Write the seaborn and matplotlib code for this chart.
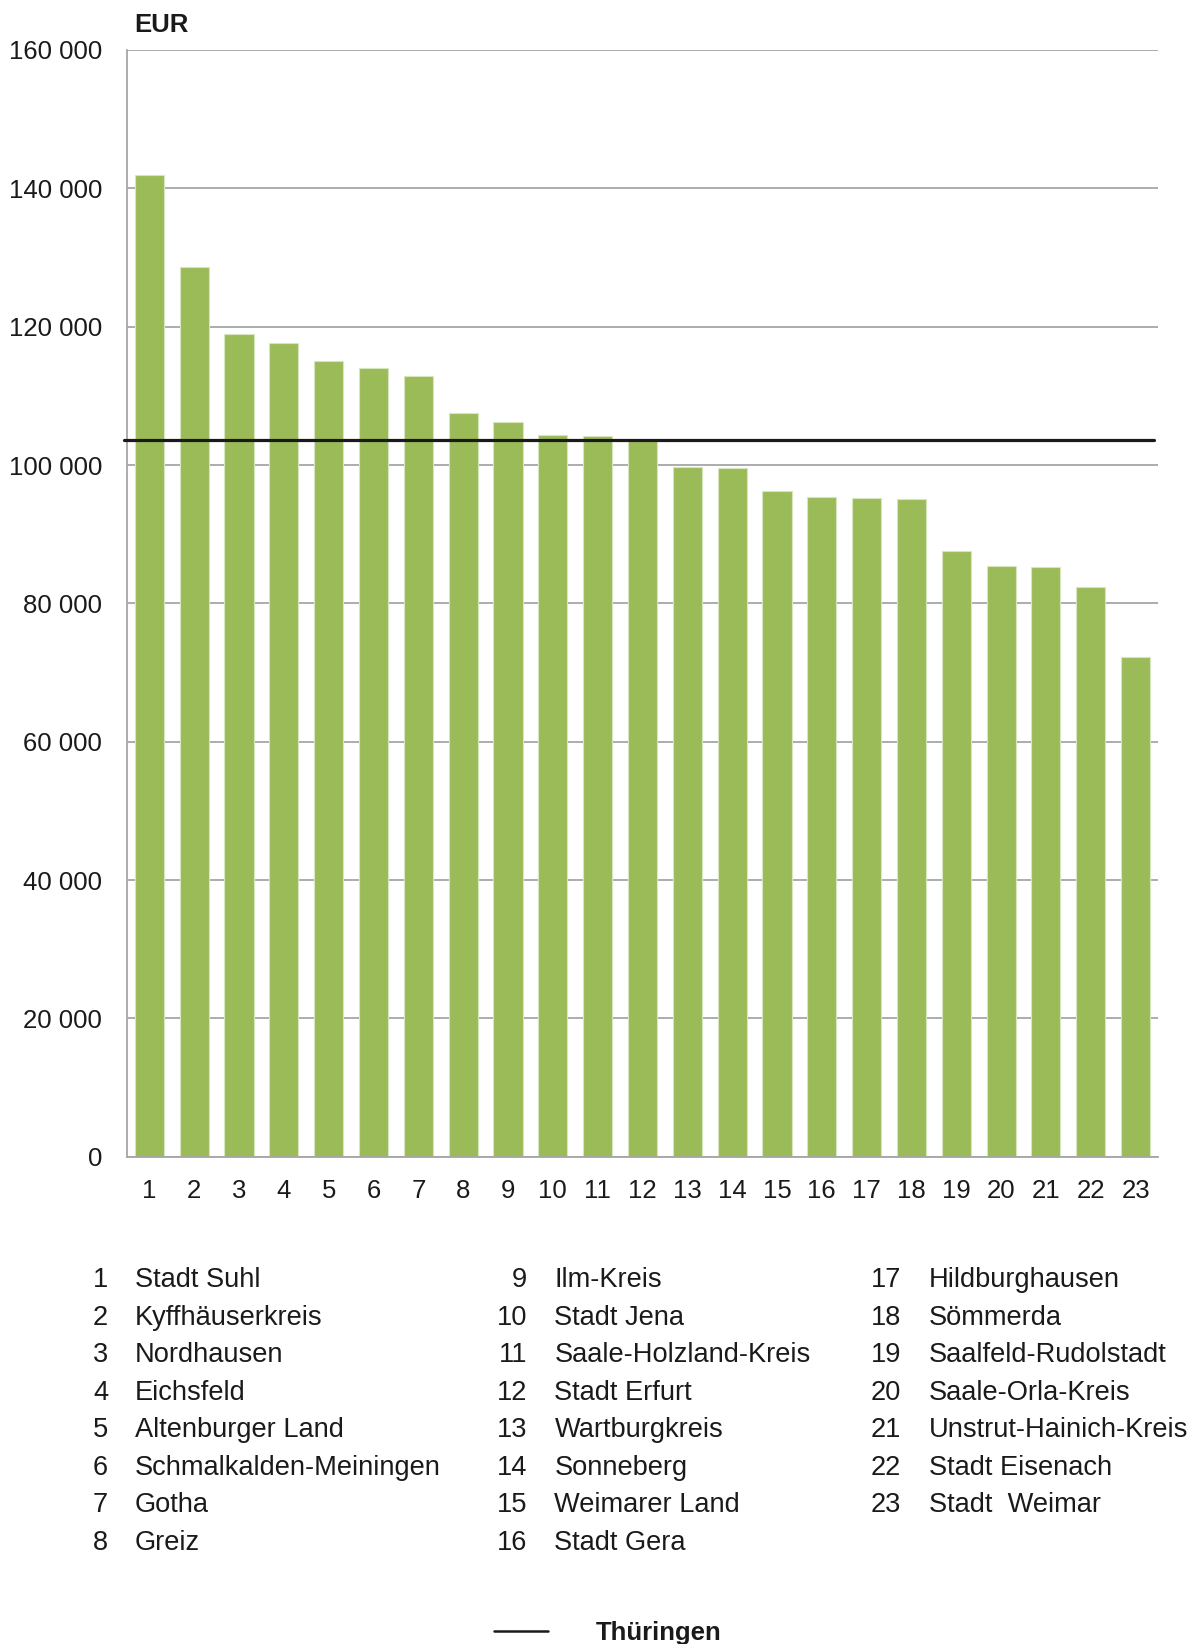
import matplotlib
matplotlib.use("Agg")
import matplotlib.pyplot as plt
from matplotlib.ticker import FuncFormatter
from matplotlib.lines import Line2D
import seaborn as sns
import pandas as pd

# ---- data ----
ranks = [str(i) for i in range(1, 24)]
kreise = ["Stadt Suhl", "Kyffhäuserkreis", "Nordhausen", "Eichsfeld", "Altenburger Land",
          "Schmalkalden-Meiningen", "Gotha", "Greiz", "Ilm-Kreis", "Stadt Jena",
          "Saale-Holzland-Kreis", "Stadt Erfurt", "Wartburgkreis", "Sonneberg",
          "Weimarer Land", "Stadt Gera", "Hildburghausen", "Sömmerda",
          "Saalfeld-Rudolstadt", "Saale-Orla-Kreis", "Unstrut-Hainich-Kreis",
          "Stadt Eisenach", "Stadt  Weimar"]
values = [141900, 128600, 119000, 117600, 115000, 114000, 112900, 107500, 106200,
          104400, 104200, 103500, 99700, 99600, 96300, 95400, 95300, 95100,
          87600, 85400, 85300, 82400, 72200]
thueringen = 103600
yticks = [0, 20000, 40000, 60000, 80000, 100000, 120000, 140000, 160000]
unit_label = "EUR"
avg_label = "Thüringen"

df = pd.DataFrame({"rank": ranks, "value": values})

sns.set_style("white")
plt.rcParams['font.family'] = ['Liberation Sans', 'DejaVu Sans']

TXT = "#1a1a1a"
GRID = "#a6a6a6"
FS = 18.5
FS_LEG = 19.6

fig = plt.figure(figsize=(11.97, 16.44), dpi=100)
ax = fig.add_axes([0.1061, 0.2964, 0.9674 - 0.1061, 0.9696 - 0.2964])

sns.barplot(data=df, x="rank", y="value", order=ranks, color="#9bbb59",
            saturation=1, width=0.65, edgecolor="#d8e6c0", linewidth=0.8,
            ax=ax, zorder=2)

ax.set_ylim(yticks[0], yticks[-1])
ax.set_xlim(-0.5, len(ranks) - 0.5)
ax.set_yticks(yticks)
ax.yaxis.set_major_formatter(FuncFormatter(lambda v, p: f"{int(v):,}".replace(",", " ")))
ax.grid(axis="y", color=GRID, linewidth=1.3, zorder=0)
ax.set_axisbelow(True)
ax.set_xlabel("")
ax.set_ylabel("")
for s in ["top", "right"]:
    ax.spines[s].set_visible(False)
for s in ["left", "bottom"]:
    ax.spines[s].set_color(GRID)
    ax.spines[s].set_linewidth(1.3)
ax.tick_params(axis="both", length=0, labelsize=FS, colors=TXT)
ax.tick_params(axis="y", pad=18)
ax.tick_params(axis="x", pad=16)

ax.axhline(thueringen, xmin=-0.003, xmax=0.996, color="#1a1a1a", linewidth=2.3,
           zorder=3, clip_on=False)

fig.text(134 / 1197, 1 - 25 / 1644, unit_label, fontsize=FS, fontweight="bold",
         color=TXT, ha="left", va="center")

# category legend: 3 columns
col_num_x = [108, 527, 901]
col_name_x = [135, 554.5, 928.7]
row0 = 1280
pitch = 37.55
per_col = [8, 8, 7]
idx = 0
for c, n in enumerate(per_col):
    for r in range(n):
        y = 1 - (row0 + r * pitch) / 1644
        fig.text(col_num_x[c] / 1197, y, ranks[idx], fontsize=FS_LEG, color=TXT,
                 ha="right", va="center")
        fig.text(col_name_x[c] / 1197, y, kreise[idx], fontsize=FS_LEG, color=TXT,
                 ha="left", va="center")
        idx += 1

# Thüringen legend
ly = 1 - 1631 / 1644
fig.add_artist(Line2D([494 / 1197, 548 / 1197], [ly, ly], color="#1a1a1a",
                      linewidth=1.8, transform=fig.transFigure))
fig.text(596 / 1197, 1 - 1633 / 1644, avg_label, fontsize=FS, fontweight="bold",
         color=TXT, ha="left", va="center")

fig.savefig("out.png", dpi=100)
